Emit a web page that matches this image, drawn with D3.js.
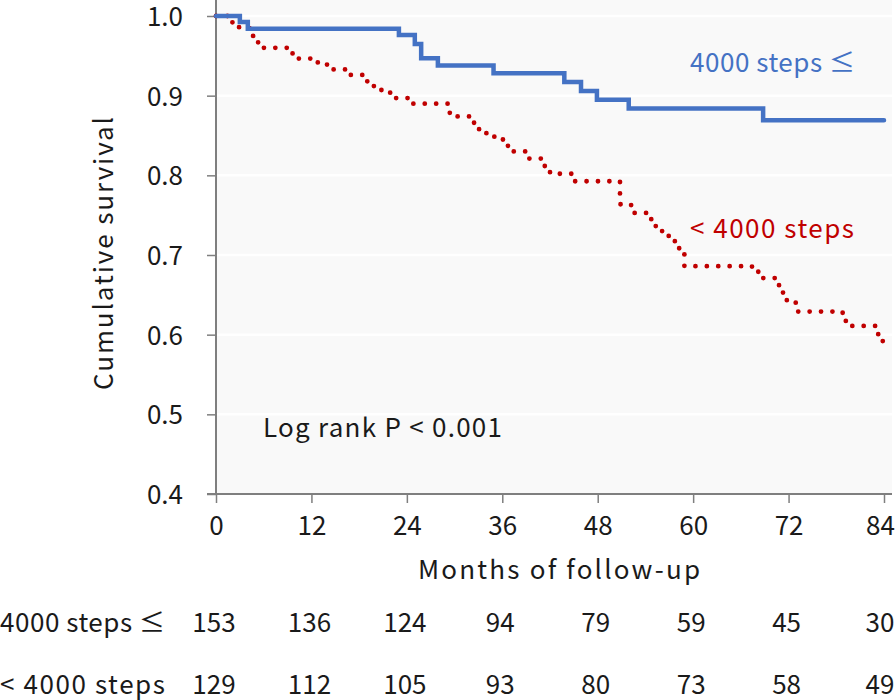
<!DOCTYPE html>
<html>
<head>
<meta charset="utf-8">
<script src="https://cdn.jsdelivr.net/npm/d3@7"></script>
<style>
  html, body { margin: 0; padding: 0; background: #ffffff; }
  svg { display: block; }
  text { font-family: "Noto Sans CJK JP", "Noto Sans", sans-serif; fill: #1a1a1a; }
</style>
</head>
<body>
<svg id="chart" width="896" height="700"></svg>
<script>
// ---------- data ----------
const monthTicks = [0, 12, 24, 36, 48, 60, 72, 84];
const survivalTicks = [0.4, 0.5, 0.6, 0.7, 0.8, 0.9, 1.0];
const groupNames = ["4000 steps \u2264", "< 4000 steps"];
const atRiskHigh = [153, 136, 124, 94, 79, 59, 45, 30];
const atRiskLow = [129, 112, 105, 93, 80, 73, 58, 49];

const highTimes = [0, 3.0, 4.0, 23.0, 25.0, 25.8, 27.9, 34.9, 43.8, 45.9, 47.9, 51.9, 68.8, 84];
const highSurv  = [1.0, 0.9925, 0.984, 0.976, 0.965, 0.947, 0.938, 0.928, 0.917, 0.906, 0.895, 0.884, 0.869, 0.869];

const lowTimes = [0, 2.0, 2.9, 4.2, 4.8, 5.5, 9.2, 10.0, 12.8, 14.4, 16.8, 18.6, 19.6, 20.8, 21.9, 24.8,
                  29.4, 32.0, 33.0, 34.0, 35.0, 36.7, 37.0, 39.0, 41.0, 42.0, 45.0, 50.8, 52.2, 54.5,
                  55.3, 56.6, 57.7, 58.9, 67.4, 68.3, 70.8, 71.3, 72.9, 78.8, 79.2, 82.9, 83.5, 84];
const lowSurv  = [1.0, 0.992, 0.985, 0.975, 0.967, 0.960, 0.953, 0.9466, 0.939, 0.933, 0.926, 0.918, 0.912, 0.904, 0.897, 0.890,
                  0.874, 0.866, 0.858, 0.851, 0.845, 0.837, 0.830, 0.821, 0.8117, 0.802, 0.7926, 0.7637, 0.7528, 0.745,
                  0.730, 0.724, 0.7085, 0.686, 0.679, 0.671, 0.6533, 0.6433, 0.629, 0.618, 0.611, 0.6006, 0.592, 0.592];

const pText = "Log rank P < 0.001";
const xTitle = "Months of follow-up";
const yTitle = "Cumulative survival";

// ---------- layout ----------
const svg = d3.select("#chart");
const plotL = 216, plotR = 884, plotT = 16, plotB = 494, bgR = 892;
const x = d3.scaleLinear().domain([0, 84]).range([plotL, plotR]);
const y = d3.scaleLinear().domain([0.4, 1.0]).range([plotB, plotT]);
const fs = 26;
const ff = "\"Noto Sans CJK JP\", \"Noto Sans\", sans-serif";

// plot background
svg.append("rect").attr("x", plotL).attr("y", 0).attr("width", bgR - plotL).attr("height", plotB)
  .attr("fill", "#f9f9f9");

// gridlines
svg.append("g").selectAll("line").data(survivalTicks.slice(1)).join("line")
  .attr("x1", plotL).attr("x2", bgR)
  .attr("y1", d => y(d)).attr("y2", d => y(d))
  .attr("stroke", "#ffffff").attr("stroke-width", 2.5);

// y axis
const yAxis = svg.append("g").attr("transform", `translate(${plotL},0)`)
  .call(d3.axisLeft(y).tickValues(survivalTicks).tickFormat(d3.format(".1f")).tickSize(9).tickPadding(24));
yAxis.select(".domain").attr("d", `M0,0V${plotB}`).attr("stroke", "#7f7f7f").attr("stroke-width", 2);
yAxis.selectAll(".tick line").attr("stroke", "#7f7f7f").attr("stroke-width", 1.5);
yAxis.selectAll(".tick text").attr("font-size", fs).attr("fill", "#1a1a1a").attr("font-family", ff)
  .attr("dy", "0.36em");

// x axis
const xAxis = svg.append("g").attr("transform", `translate(0,${plotB})`)
  .call(d3.axisBottom(x).tickValues(monthTicks).tickSize(9).tickPadding(14));
xAxis.select(".domain").attr("d", `M${plotL - 9},0H${bgR}`).attr("stroke", "#7f7f7f").attr("stroke-width", 2);
xAxis.selectAll(".tick line").attr("stroke", "#7f7f7f").attr("stroke-width", 1.5);
xAxis.selectAll(".tick text").attr("font-size", fs).attr("fill", "#1a1a1a").attr("font-family", ff)
  .attr("dx", d => d === 84 ? -4 : 0);

// curves
const line = d3.line().x(d => x(d[0])).y(d => y(d[1])).curve(d3.curveStepAfter);
const highData = highTimes.map((t, i) => [t, highSurv[i]]);
const lowData = lowTimes.map((t, i) => [t, lowSurv[i]]);

svg.append("path").datum(lowData).attr("d", line)
  .attr("fill", "none").attr("stroke", "#c00000").attr("stroke-width", 4.8)
  .attr("stroke-linecap", "round").attr("stroke-dasharray", "0 11.4");

svg.append("path").datum(highData).attr("d", line)
  .attr("fill", "none").attr("stroke", "#4472c4").attr("stroke-width", 4.5)
  .attr("stroke-linecap", "round").attr("stroke-linejoin", "miter");

// labels
function label(xp, yp, str, len, color) {
  return svg.append("text").attr("x", xp).attr("y", yp).attr("font-size", fs)
    .attr("textLength", len).attr("lengthAdjust", "spacing")
    .style("fill", color || "#1a1a1a").text(str);
}
label(690, 72, groupNames[0], 165, "#4472c4");
label(690, 238, groupNames[1], 164, "#c00000");
label(263, 437, pText, 239);

// axis titles
label(418, 579, xTitle, 282);
svg.append("text").attr("transform", "translate(113,390) rotate(-90)").attr("font-size", fs)
  .attr("textLength", 273).attr("lengthAdjust", "spacing").text(yTitle);

// numbers at risk
const rows = [
  { name: groupNames[0], values: atRiskHigh, yb: 632 },
  { name: groupNames[1], values: atRiskLow, yb: 694 }
];
rows.forEach(r => {
  label(0, r.yb, r.name, 165);
  svg.append("g").selectAll("text").data(monthTicks).join("text")
    .attr("x", (d) => Math.min(x(d) - 2, 880)).attr("y", r.yb).attr("font-size", fs).attr("text-anchor", "middle")
    .text((d, i) => r.values[i]);
});
</script>
</body>
</html>
